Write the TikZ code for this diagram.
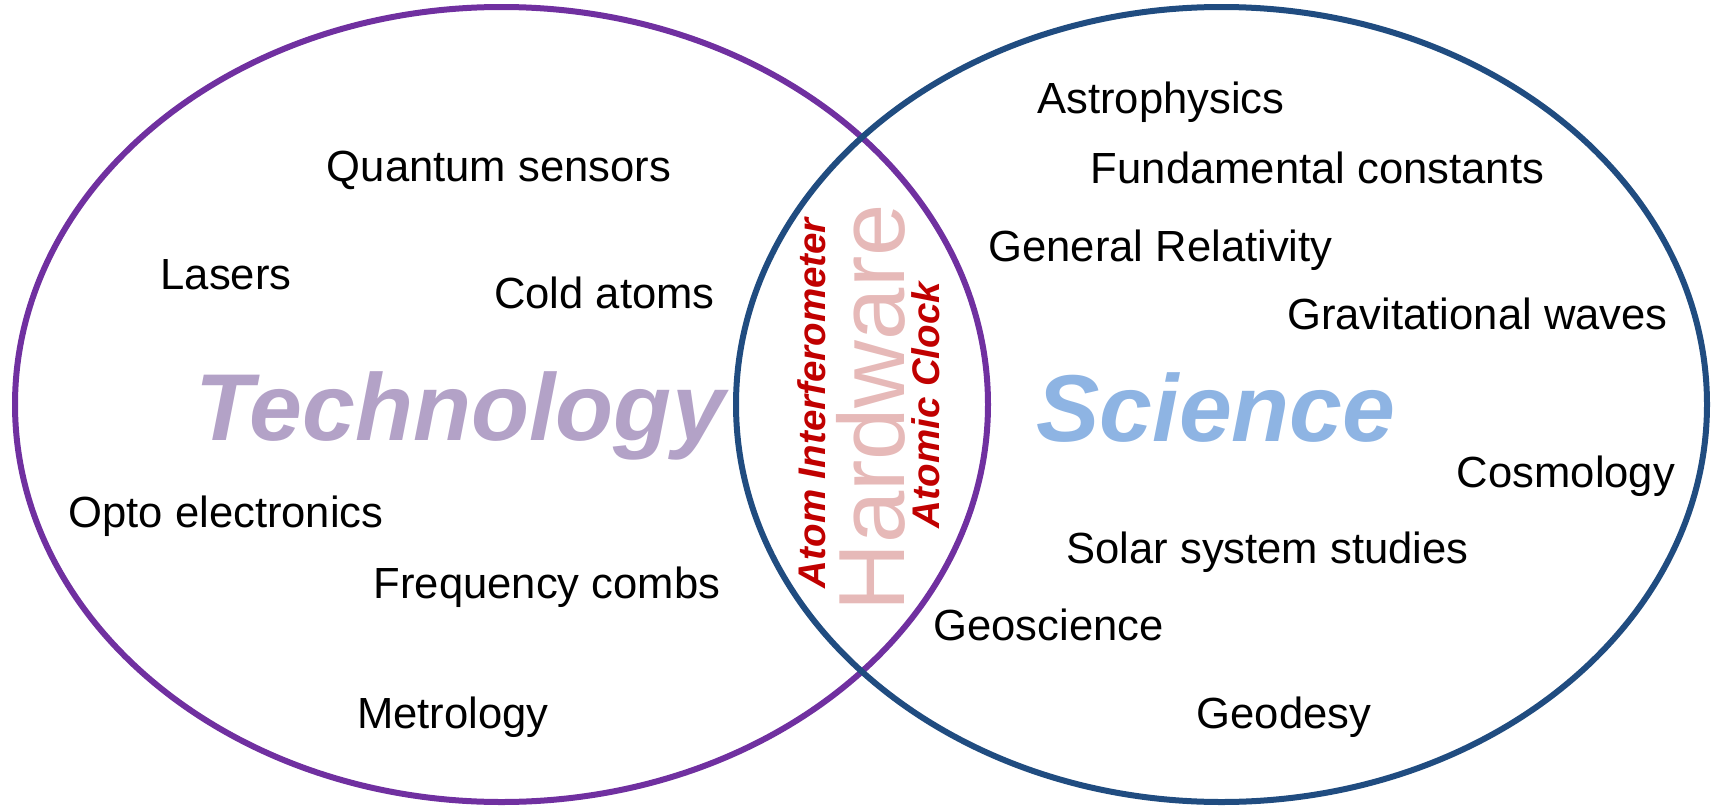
\documentclass[tikz,border=0pt]{standalone}
\usepackage{fontspec}
\setmainfont{Liberation Sans}
\definecolor{ringpurple}{HTML}{7030A0}
\definecolor{ringblue}{RGB}{32,76,128}
\definecolor{techlav}{HTML}{B3A2C7}
\definecolor{scisky}{HTML}{8EB4E3}
\definecolor{hwpink}{HTML}{E6B9B8}
\definecolor{devred}{HTML}{C00000}
\begin{document}
\begin{tikzpicture}[x=1pt,y=-1pt,
  ring/.style={line width=6pt},
  term/.style={anchor=base, inner sep=0pt, outer sep=0pt,
    font=\fontsize{43.6}{50}\selectfont},
  field/.style={anchor=base, inner sep=0pt, outer sep=0pt,
    font=\fontsize{95}{100}\selectfont\bfseries\itshape},
  device/.style={anchor=base, inner sep=0pt, outer sep=0pt, rotate=90,
    text=devred, font=\fontsize{38.5}{42}\selectfont\bfseries\itshape}]
\useasboundingbox (0,0) rectangle (1711,811);

% the two overlapping circles of the diagram
\draw[ring, ringpurple] (501.5,404.5) ellipse [x radius=486.5, y radius=397.5];
\draw[ring, ringblue] (1221.5,404.5) ellipse [x radius=485.5, y radius=397.5];

% large field titles
\node[field, text=techlav] (technology) at (460,440) {Technology};
\node[field, text=scisky] (science) at (1216,441) {Science};

% overlap: hardware
\node[anchor=base, inner sep=0pt, outer sep=0pt, rotate=90, text=hwpink,
  font=\fontsize{94}{100}\selectfont] (hardware) at (904,408) {Hardware};
\node[device] (interferometer) at (825,403) {Atom Interferometer};
\node[device] (clock) at (939,405) {Atomic Clock};

% technology side
\node[term] (quantum) at (499,181) {Quantum sensors};
\node[term] (lasers) at (226,289.7) {Lasers};
\node[term] (coldatoms) at (604.5,308.8) {Cold atoms};
\node[term] (opto) at (226,527.7) {Opto electronics};
\node[term] (combs) at (547,598.5) {Frequency combs};
\node[term] (metrology) at (453,728) {Metrology};

% science side
\node[term] (astro) at (1161,113) {Astrophysics};
\node[term] (constants) at (1317.5,183.6) {Fundamental constants};
\node[term] (relativity) at (1160.5,261) {General Relativity};
\node[term] (gwaves) at (1477.5,329.5) {Gravitational waves};
\node[term] (cosmology) at (1566,487) {Cosmology};
\node[term] (solar) at (1267.5,563) {Solar system studies};
\node[term] (geoscience) at (1048.5,640) {Geoscience};
\node[term] (geodesy) at (1284,728) {Geodesy};
\end{tikzpicture}
\end{document}
